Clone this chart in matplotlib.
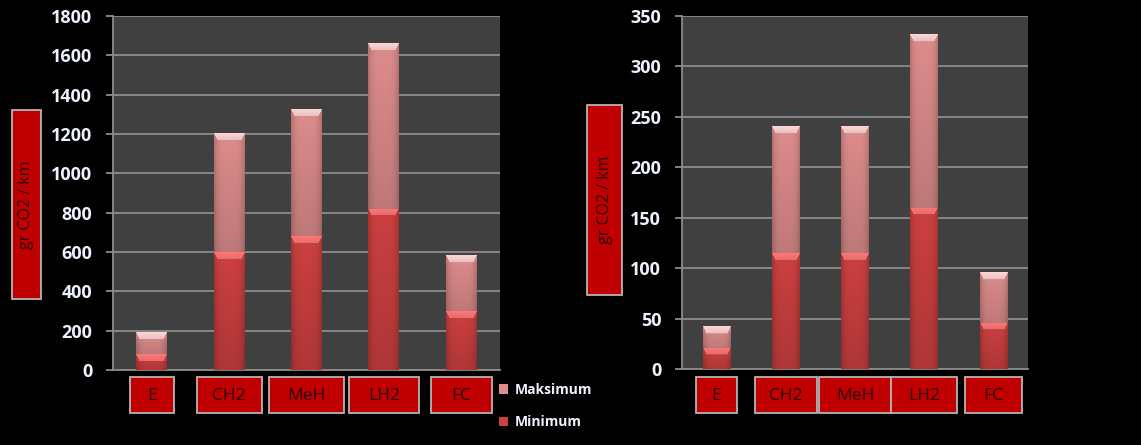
import numpy as np
import matplotlib
matplotlib.use("Agg")
import matplotlib.pyplot as plt
from matplotlib.patches import Rectangle
from matplotlib.transforms import blended_transform_factory

# data
categories = ["E", "CH2", "MeH", "LH2", "FC"]

left_min = [80, 600, 680, 820, 300]
left_max = [190, 1205, 1325, 1660, 580]

right_min = [21, 115, 115, 160, 46]
right_max = [42, 240, 240, 332, 96]

left_ticks = [0, 200, 400, 600, 800, 1000, 1200, 1400, 1600, 1800]
right_ticks = [0, 50, 100, 150, 200, 250, 300, 350]

ylabel = "gr CO2 / km"
series_names = ["Minimum", "Maksimum"]

# style
plt.rcParams['font.family'] = ['Open Sans', 'DejaVu Sans']
BG = "black"
PLOT_BG = "#404040"
GRID = "#8c8c8c"
TXT = "#eef2ff"
BOX_RED = "#c00000"
BOX_EDGE = "#b4b4b4"
MIN_COL = np.array([0.80, 0.25, 0.25])
MAX_COL = np.array([0.87, 0.55, 0.55])
MIN_BEVEL = np.array([1.0, 0.47, 0.47])
MAX_BEVEL = np.array([1.0, 0.84, 0.84])

left_box_w = [0.57, 0.84, 0.98, 0.90, 0.79]
right_box_w = [0.59, 0.90, 1.04, 0.95, 0.82]


def bar_image(base, bevel, h_px, w_px, bev_px=7):
    h_px = max(int(round(h_px)), 2)
    w_px = max(int(round(w_px)), 2)
    u = (np.arange(w_px) + 0.5) / w_px
    v = (np.arange(h_px) + 0.5) / h_px  # 0 top, 1 bottom
    edge = np.abs(u - 0.5) * 2
    hf = 1 - 0.2 * edge ** 4
    vf = 1 - 0.14 * v
    img = base[None, None, :] * (hf[None, :, None] * vf[:, None, None])
    side = 0.12 * w_px
    for r in range(min(bev_px, h_px)):
        t = (r + 0.5) / bev_px
        for c in range(w_px):
            d = min(c + 0.5, w_px - c - 0.5)
            if d > side * t:
                img[r, c] = bevel * (1 - 0.1 * t)
            else:
                img[r, c] = base * 0.88
    return np.clip(img, 0, 1)


def draw_chart(fig, ax, mins, maxs, ticks, box_w):
    x = np.arange(len(categories))
    tops = [mx - mn for mn, mx in zip(mins, maxs)]
    ax.set_facecolor(PLOT_BG)
    b_min = ax.bar(x, mins, 0.4, color=MIN_COL, label=series_names[0], zorder=3)
    b_max = ax.bar(x, tops, 0.4, bottom=mins, color=MAX_COL, label=series_names[1], zorder=3)
    ax.set_xlim(-0.5, len(categories) - 0.5)
    ax.set_ylim(ticks[0], ticks[-1])
    ax.set_yticks(ticks)
    ax.set_xticks([])
    ax.yaxis.grid(True, color=GRID, lw=1.3, zorder=0)
    ax.set_axisbelow(True)
    for s in ["top", "right"]:
        ax.spines[s].set_visible(False)
    for s in ["left", "bottom"]:
        ax.spines[s].set_color(GRID)
        ax.spines[s].set_linewidth(1.3)
    ax.tick_params(axis="y", colors=GRID, labelcolor=TXT, length=5, width=1.3,
                   pad=10, labelsize=13)
    for lab in ax.get_yticklabels():
        lab.set_fontweight("bold")

    fig.canvas.draw()
    bb = ax.get_window_extent()
    px_x = bb.width / (ax.get_xlim()[1] - ax.get_xlim()[0])
    px_y = bb.height / (ax.get_ylim()[1] - ax.get_ylim()[0])
    for cont, base, bev in [(b_min, MIN_COL, MIN_BEVEL), (b_max, MAX_COL, MAX_BEVEL)]:
        for p in cont.patches:
            x0, y0, w, h = p.get_x(), p.get_y(), p.get_width(), p.get_height()
            img = bar_image(base, bev, h * px_y, w * px_x)
            ax.imshow(img, extent=[x0, x0 + w, y0, y0 + h], aspect="auto",
                      clip_path=p, zorder=4, interpolation="bilinear")
    ax.set_xlim(-0.5, len(categories) - 0.5)
    ax.set_ylim(ticks[0], ticks[-1])

    # category label boxes
    tr = blended_transform_factory(ax.transData, fig.transFigure)
    for xi, name, bw in zip(x, categories, box_w):
        ax.add_patch(Rectangle((xi - bw / 2, 0.073), bw, 0.079, transform=tr,
                               facecolor=BOX_RED, edgecolor=BOX_EDGE, lw=1.3,
                               clip_on=False, zorder=5))
        ax.text(xi, 0.110, name, transform=tr, ha="center", va="center",
                fontsize=12.5, color="#2a0000", clip_on=False, zorder=6)
    return b_min, b_max


fig = plt.figure(figsize=(11.41, 4.45), dpi=100, facecolor=BG)
ax1 = fig.add_axes([0.0990, 0.1685, 0.3392, 0.7955])
ax2 = fig.add_axes([0.5977, 0.1708, 0.3033, 0.7933])

b_min, b_max = draw_chart(fig, ax1, left_min, left_max, left_ticks, left_box_w)
draw_chart(fig, ax2, right_min, right_max, right_ticks, right_box_w)

# y label boxes
for (bx, by, bw, bh) in [(0.0105, 0.328, 0.0254, 0.425), (0.5145, 0.337, 0.0307, 0.427)]:
    fig.patches.append(Rectangle((bx, by), bw, bh, transform=fig.transFigure,
                                 facecolor=BOX_RED, edgecolor=BOX_EDGE, lw=1.3))
    fig.text(bx + bw / 2, by + bh / 2, ylabel, rotation=90, ha="center", va="center",
             fontsize=11.5, color="#2a0000")

leg = fig.legend(handles=[b_max, b_min], labels=[series_names[1], series_names[0]],
                 loc="upper left", bbox_to_anchor=(0.426, 0.167), frameon=False,
                 handlelength=0.7, handleheight=0.7, labelspacing=1.3,
                 handletextpad=0.5, fontsize=10)
for t in leg.get_texts():
    t.set_color(TXT)
    t.set_fontweight("bold")

fig.savefig("out.png", dpi=100, facecolor=BG)
